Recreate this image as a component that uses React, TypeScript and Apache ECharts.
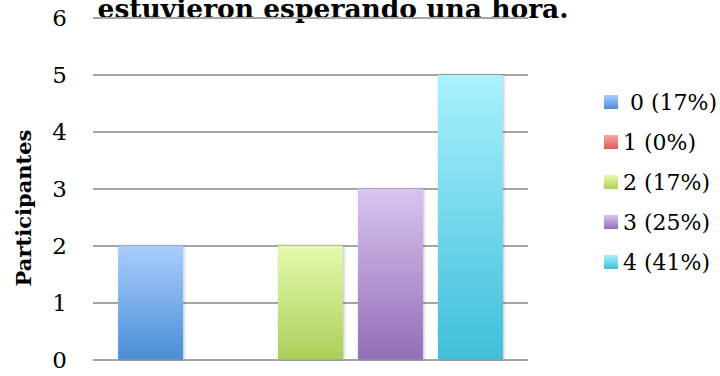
import React, { useEffect, useRef } from "react";
import * as echarts from "echarts";

const categories: string[] = [""];
const seriesNames: string[] = ["0 (17%)", "1 (0%)", "2 (17%)", "3 (25%)", "4 (41%)"];
const participantCounts: number[] = [2, 0, 2, 3, 5];
const yTicks: number[] = [0, 1, 2, 3, 4, 5, 6];
const titleText = "estuvieron esperando una hora.";
const yAxisTitle = "Participantes";

const gradientTops = ["#a9cdfe", "#f8a9a6", "#e4faad", "#d9c4f0", "#a9f1fd"];
const gradientBottoms = ["#4a8ed7", "#df5a55", "#abcf58", "#936eb7", "#3fbfdb"];

const FONT = "'DejaVu Serif', serif";

export default function App() {
  const ref = useRef<HTMLDivElement>(null);
  useEffect(() => {
    if (!ref.current) return;
    const chart = echarts.init(ref.current, null, { renderer: "svg" });
    const series = seriesNames.map((name, i) => ({
      name,
      type: "bar" as const,
      barWidth: 65,
      barGap: "23%",
      data: [participantCounts[i]],
      itemStyle: {
        color: new echarts.graphic.LinearGradient(0, 0, 0, 1, [
          { offset: 0, color: gradientTops[i] },
          { offset: 1, color: gradientBottoms[i] },
        ]),
        shadowBlur: 3,
        shadowColor: "rgba(0,0,0,0.25)",
        shadowOffsetX: 1,
        shadowOffsetY: 0,
      },
    }));
    chart.setOption({
      animation: false,
      backgroundColor: "#ffffff",
      grid: { left: 93, right: 192, top: 18, bottom: 16.5, containLabel: false },
      xAxis: {
        type: "category",
        data: categories,
        axisLine: { show: false },
        axisTick: { show: false },
        axisLabel: { show: false },
      },
      yAxis: {
        type: "value",
        min: yTicks[0],
        max: yTicks[yTicks.length - 1],
        interval: 1,
        axisLine: { show: false },
        axisTick: { show: false },
        axisLabel: {
          margin: 26,
          fontFamily: FONT,
          fontSize: 23,
          color: "#000",
          padding: [7, 0, 0, 0],
        },
        splitLine: { lineStyle: { color: "#a5a5a5", width: 2 } },
      },
      legend: {
        orient: "vertical",
        left: 599,
        top: 86,
        itemWidth: 14,
        itemHeight: 14,
        itemGap: 18,
        icon: "rect",
        data: seriesNames,
        formatter: (name: string) => (name === seriesNames[0] ? " " + name : name),
        textStyle: { fontFamily: FONT, fontSize: 22, lineHeight: 22, color: "#000" },
      },
      graphic: [
        {
          type: "text",
          x: 333,
          y: 8,
          style: {
            text: titleText,
            fontFamily: FONT,
            fontWeight: "bold",
            fontSize: 26.5,
            fill: "#000",
            align: "center",
            verticalAlign: "middle",
          },
        },
        {
          type: "text",
          x: 23,
          y: 208,
          rotation: Math.PI / 2,
          style: {
            text: yAxisTitle,
            fontFamily: FONT,
            fontWeight: "bold",
            fontSize: 21,
            fill: "#000",
            align: "center",
            verticalAlign: "middle",
          },
        },
      ],
      series,
    });
    return () => chart.dispose();
  }, []);
  return (
    <div
      ref={ref}
      style={{ position: "fixed", left: 0, top: 0, width: 720, height: 376 }}
    />
  );
}
